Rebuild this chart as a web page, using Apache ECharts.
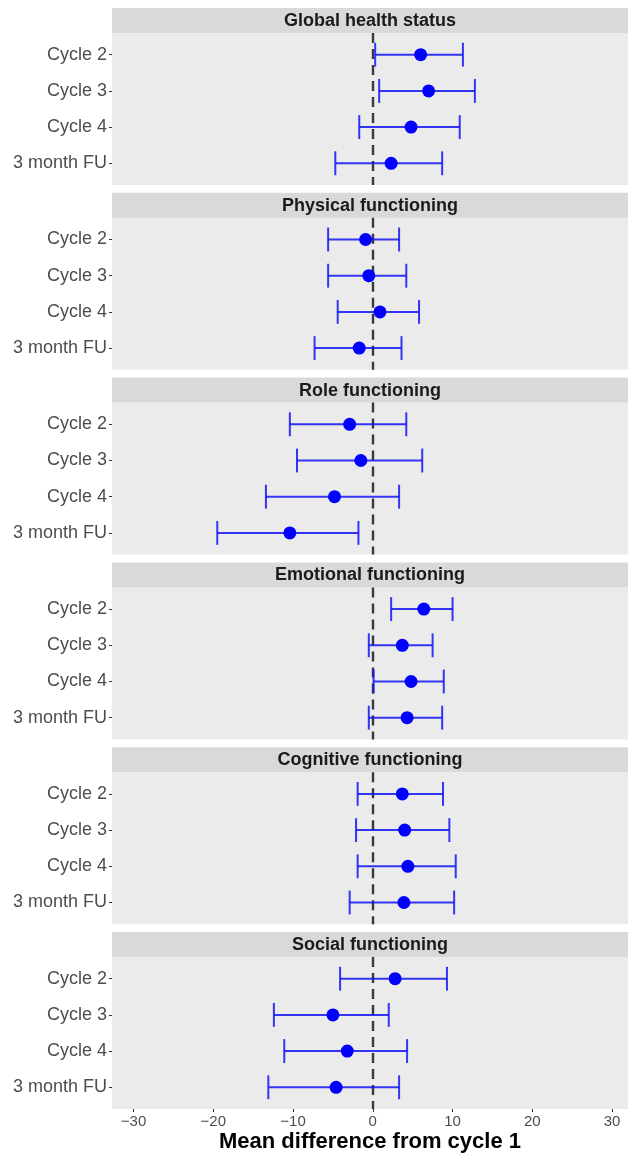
<!DOCTYPE html>
<html>
<head>
<meta charset="utf-8">
<script src="https://cdn.jsdelivr.net/npm/echarts@6/dist/echarts.min.js"></script>
<style>
html,body{margin:0;padding:0;background:#fff;}
#chart{width:628px;height:1154px;}
</style>
</head>
<body>
<div id="chart"></div>
<script>
// ---- data ----
const facetNames = ['Global health status','Physical functioning','Role functioning','Emotional functioning','Cognitive functioning','Social functioning'];
const timepoints = ['Cycle 2','Cycle 3','Cycle 4','3 month FU'];
const meanDiff = [
  [6.0, 7.0, 4.8, 2.3],
  [-0.9, -0.5, 0.9, -1.7],
  [-2.9, -1.5, -4.8, -10.4],
  [6.4, 3.7, 4.8, 4.3],
  [3.7, 4.0, 4.4, 3.9],
  [2.8, -5.0, -3.2, -4.6]
];
const lowerCI = [
  [0.3, 0.8, -1.7, -4.7],
  [-5.6, -5.6, -4.4, -7.3],
  [-10.4, -9.5, -13.4, -19.5],
  [2.3, -0.5, 0.1, -0.5],
  [-1.9, -2.1, -1.9, -2.9],
  [-4.1, -12.4, -11.1, -13.1]
];
const upperCI = [
  [11.3, 12.8, 10.9, 8.7],
  [3.3, 4.2, 5.8, 3.6],
  [4.2, 6.2, 3.3, -1.8],
  [10.0, 7.5, 8.9, 8.7],
  [8.8, 9.6, 10.4, 10.2],
  [9.3, 2.0, 4.3, 3.3]
];
const xTickValues = [-30, -20, -10, 0, 10, 20, 30];
const xAxisTitle = 'Mean difference from cycle 1';

// ---- layout ----
const FONT = '"Liberation Sans", Arial, sans-serif';
const plotLeft = 112, plotRight = 0;
const firstPanelTop = 33, panelH = 152, stripH = 25, step = 184.8;
const xMin = -32.7, xMax = 32.0;
const barColor = 'rgba(20,20,245,0.85)';
const rowIdx = timepoints.map((t, k) => k);

const grids = [], xAxes = [], yAxes = [], series = [], graphics = [];
facetNames.forEach((name, i) => {
  const top = firstPanelTop + i * step;
  const last = i === facetNames.length - 1;
  grids.push({left: plotLeft, right: plotRight, top: top, height: panelH,
    show: true, backgroundColor: '#EBEBEB', borderWidth: 0,
    containLabel: false, outerBoundsMode: 'none'});
  xAxes.push({
    type: 'value', gridIndex: i, min: xMin, max: xMax, show: last, position: 'bottom',
    splitLine: {show: false},
    axisLine: {show: false, onZero: false},
    axisTick: {show: last, length: 3, lineStyle: {color: '#333', width: 1}, customValues: xTickValues},
    axisLabel: {show: last, customValues: xTickValues, color: '#4D4D4D', fontSize: 15, fontFamily: FONT, margin: 5,
      formatter: v => String(v).replace('-', '\u2212')},
    name: last ? xAxisTitle : '', nameLocation: 'middle', nameGap: 22,
    nameTextStyle: {fontSize: 22, fontWeight: 'bold', color: '#000', fontFamily: FONT}
  });
  yAxes.push({
    type: 'value', gridIndex: i, min: -0.6, max: timepoints.length - 0.4, inverse: true, position: 'left',
    axisLine: {show: false, onZero: false},
    axisTick: {show: true, length: 3, lineStyle: {color: '#333', width: 1}, customValues: rowIdx},
    axisLabel: {color: '#4D4D4D', fontSize: 18, fontFamily: FONT, margin: 5, customValues: rowIdx,
      formatter: v => timepoints[Math.round(v)]},
    splitLine: {show: false}
  });
  graphics.push({type: 'rect', left: plotLeft, top: top - stripH, shape: {width: 628 - plotLeft, height: stripH},
    style: {fill: '#D9D9D9'}, silent: true});
  graphics.push({type: 'text', x: plotLeft + (628 - plotLeft) / 2, y: top - stripH / 2 + 0.5,
    style: {text: name, fill: '#1A1A1A', font: 'bold 18px ' + FONT, textAlign: 'center', textVerticalAlign: 'middle'}, silent: true});

  const ebData = timepoints.map((t, k) => [lowerCI[i][k], upperCI[i][k], k]);
  series.push({
    type: 'custom', xAxisIndex: i, yAxisIndex: i, data: ebData, encode: {x: [0, 1], y: 2}, z: 3,
    renderItem: (params, api) => {
      const lo = api.coord([api.value(0), api.value(2)]);
      const hi = api.coord([api.value(1), api.value(2)]);
      const h = api.size([0, 1])[1] * 0.33;
      const st = {stroke: barColor, lineWidth: 2};
      return {type: 'group', children: [
        {type: 'line', shape: {x1: lo[0], y1: lo[1], x2: hi[0], y2: hi[1]}, style: st},
        {type: 'line', shape: {x1: lo[0], y1: lo[1] - h, x2: lo[0], y2: lo[1] + h}, style: st},
        {type: 'line', shape: {x1: hi[0], y1: hi[1] - h, x2: hi[0], y2: hi[1] + h}, style: st}
      ]};
    }
  });
  series.push({
    type: 'scatter', xAxisIndex: i, yAxisIndex: i, z: 4,
    data: timepoints.map((t, k) => [meanDiff[i][k], k]),
    symbol: 'circle', symbolSize: 13, itemStyle: {color: '#0000FF', opacity: 1},
    markLine: {silent: true, symbol: 'none', label: {show: false}, z: 2,
      lineStyle: {type: [10, 6], color: '#3a3a3a', width: 2.4}, data: [{xAxis: 0}]}
  });
});

const chart = echarts.init(document.getElementById('chart'), null, {renderer: 'canvas'});
chart.setOption({
  animation: false,
  backgroundColor: '#fff',
  grid: grids, xAxis: xAxes, yAxis: yAxes, series: series, graphic: graphics
});
</script>
</body>
</html>
